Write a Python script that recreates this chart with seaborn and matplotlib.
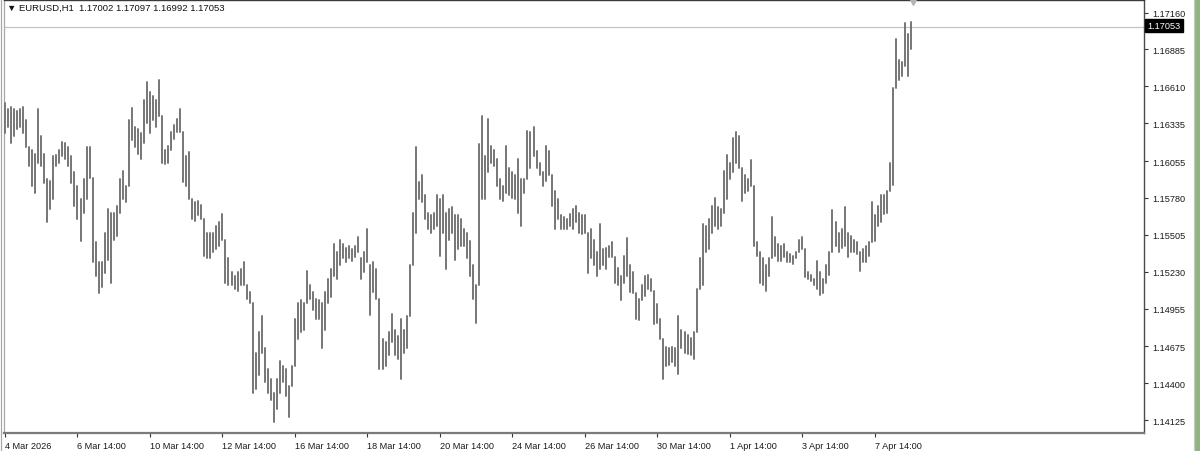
import numpy as np
import pandas as pd
import matplotlib
matplotlib.use("Agg")
import matplotlib.pyplot as plt
import seaborn as sns
from matplotlib.lines import Line2D
from matplotlib.patches import Rectangle

# ---------------- data ----------------
symbol_title = "EURUSD,H1"
last_ohlc = [1.17002, 1.17097, 1.16992, 1.17053]
last_price = 1.17053

bar_high = [
    1.1649, 1.1644, 1.1646, 1.1644, 1.1643, 1.1644, 1.1646, 1.1636, 1.1616, 1.1614,
    1.1611, 1.1644, 1.1624, 1.1611, 1.1592, 1.1591, 1.1609, 1.1610, 1.1614, 1.1620,
    1.1619, 1.1616, 1.1609, 1.1597, 1.1587, 1.1577, 1.1592, 1.1616, 1.1616, 1.1593,
    1.1545, 1.1530, 1.1530, 1.1552, 1.1570, 1.1567, 1.1567, 1.1572, 1.1592, 1.1598,
    1.1587, 1.1636, 1.1645, 1.1631, 1.1629, 1.1626, 1.1651, 1.1664, 1.1657, 1.1654,
    1.1651, 1.1666,
    1.1639, 1.1614, 1.1617, 1.1627, 1.1632, 1.1637, 1.1644, 1.1627, 1.1609, 1.1612,
    1.1577, 1.1575, 1.1576, 1.1573, 1.1562, 1.1552, 1.1552, 1.1552, 1.1557, 1.1560,
    1.1566, 1.1547, 1.1533, 1.1523, 1.1520, 1.1523, 1.1525, 1.1530, 1.1513, 1.1508,
    1.1500, 1.1463, 1.1478, 1.1490, 1.1466, 1.1451, 1.1443, 1.1433, 1.1443, 1.1457,
    1.1453, 1.1451, 1.1438, 1.1453, 1.1488, 1.1500, 1.1502, 1.1500, 1.1524, 1.1513,
    1.1508, 1.1503, 1.1502, 1.1500, 1.1508, 1.1518, 1.1525, 1.1544, 1.1538, 1.1547,
    1.1544, 1.1541, 1.1542, 1.1540, 1.1542, 1.1549, 1.1533, 1.1538, 1.1555, 1.1528,
    1.1530, 1.1525, 1.1503, 1.1473, 1.1471, 1.1478, 1.1492, 1.1480, 1.1475, 1.1488,
    1.1480, 1.1490, 1.1528, 1.1567, 1.1616, 1.1590, 1.1595, 1.1580, 1.1567, 1.1565,
    1.1567, 1.1580, 1.1577, 1.1580, 1.1567, 1.1570, 1.1571, 1.1565, 1.1565, 1.1562,
    1.1555, 1.1552, 1.1546, 1.1528, 1.1513, 1.1618, 1.1639, 1.1609, 1.1637, 1.1617,
    1.1614, 1.1607, 1.1592, 1.1587, 1.1617, 1.1600, 1.1597, 1.1595, 1.1607, 1.1592,
    1.1592, 1.1628, 1.1627, 1.1631, 1.1613, 1.1604, 1.1597, 1.1617, 1.1613, 1.1595,
    1.1583, 1.1577, 1.1565, 1.1564, 1.1562, 1.1566, 1.1570, 1.1572, 1.1567, 1.1565,
    1.1565, 1.1552, 1.1555, 1.1547, 1.1538, 1.1559, 1.1540, 1.1541, 1.1542,
    1.1545, 1.1534, 1.1526, 1.1520, 1.1535, 1.1548, 1.1528, 1.1523, 1.1507, 1.1503,
    1.1513, 1.1520, 1.1521, 1.1518, 1.1509, 1.1499, 1.1488, 1.1473, 1.1467, 1.1466,
    1.1467, 1.1466, 1.1490, 1.1480, 1.1478, 1.1476, 1.1474, 1.1478, 1.1510, 1.1533,
    1.1559, 1.1557, 1.1562, 1.1572, 1.1578, 1.1571, 1.1570, 1.1598, 1.1610, 1.1604,
    1.1623, 1.1627, 1.1624, 1.1600, 1.1595, 1.1592, 1.1606, 1.1587, 1.1545, 1.1538,
    1.1533, 1.1528, 1.1533, 1.1564, 1.1549, 1.1544, 1.1542, 1.1544, 1.1538, 1.1536,
    1.1535, 1.1538, 1.1547, 1.1549, 1.1540, 1.1523, 1.1521, 1.1518, 1.1531, 1.1523,
    1.1518, 1.1528, 1.1538, 1.1569, 1.1560, 1.1552, 1.1555, 1.1571, 1.1552, 1.1550,
    1.1547, 1.1545, 1.1538, 1.1540, 1.1542, 1.1545, 1.1575, 1.1565, 1.1572, 1.1580,
    1.1580, 1.1583, 1.1604, 1.1660, 1.1696, 1.1681, 1.1679, 1.1708, 1.1700, 1.1709,
]

bar_low = [
    1.1626, 1.1631, 1.1619, 1.1624, 1.1629, 1.1631, 1.1626, 1.1616, 1.1602, 1.1587,
    1.1582, 1.1604, 1.1602, 1.1589, 1.1560, 1.1570, 1.1577, 1.1602, 1.1604, 1.1609,
    1.1607, 1.1602, 1.1589, 1.1572, 1.1562, 1.1546, 1.1567, 1.1577, 1.1593, 1.1530,
    1.1520, 1.1507, 1.1512, 1.1522, 1.1532, 1.1515, 1.1547, 1.1550, 1.1567, 1.1577,
    1.1575, 1.1587, 1.1621, 1.1616, 1.1611, 1.1607, 1.1619, 1.1634, 1.1626, 1.1636,
    1.1631, 1.1639,
    1.1604, 1.1603, 1.1604, 1.1614, 1.1622, 1.1627, 1.1627, 1.1590, 1.1587, 1.1577,
    1.1562, 1.1561, 1.1565, 1.1562, 1.1535, 1.1533, 1.1533, 1.1538, 1.1540, 1.1542,
    1.1547, 1.1515, 1.1513, 1.1513, 1.1510, 1.1509, 1.1513, 1.1513, 1.1503, 1.1500,
    1.1433, 1.1436, 1.1446, 1.1463, 1.1441, 1.1433, 1.1428, 1.1411, 1.1421, 1.1433,
    1.1441, 1.1431, 1.1415, 1.1438, 1.1453, 1.1473, 1.1478, 1.1480, 1.1500, 1.1503,
    1.1495, 1.1488, 1.1488, 1.1466, 1.1480, 1.1500, 1.1504, 1.1520, 1.1518, 1.1528,
    1.1533, 1.1530, 1.1533, 1.1531, 1.1534, 1.1538, 1.1518, 1.1523, 1.1530, 1.1491,
    1.1508, 1.1503, 1.1451, 1.1451, 1.1453, 1.1461, 1.1471, 1.1461, 1.1458, 1.1443,
    1.1463, 1.1466, 1.1490, 1.1528, 1.1552, 1.1577, 1.1575, 1.1562, 1.1555, 1.1552,
    1.1555, 1.1557, 1.1535, 1.1552, 1.1525, 1.1547, 1.1552, 1.1532, 1.1540, 1.1542,
    1.1542, 1.1533, 1.1520, 1.1503, 1.1485, 1.1513, 1.1577, 1.1577, 1.1597, 1.1604,
    1.1602, 1.1587, 1.1577, 1.1576, 1.1582, 1.1580, 1.1578, 1.1577, 1.1567, 1.1557,
    1.1582, 1.1592, 1.1600, 1.1609, 1.1600, 1.1595, 1.1587, 1.1591, 1.1595, 1.1572,
    1.1555, 1.1562, 1.1555, 1.1555, 1.1555, 1.1557, 1.1555, 1.1560, 1.1552, 1.1551,
    1.1552, 1.1522, 1.1533, 1.1528, 1.1520, 1.1525, 1.1528, 1.1525, 1.1534,
    1.1534, 1.1515, 1.1513, 1.1502, 1.1515, 1.1520, 1.1508, 1.1507, 1.1488, 1.1487,
    1.1502, 1.1505, 1.1510, 1.1509, 1.1484, 1.1485, 1.1473, 1.1443, 1.1453, 1.1454,
    1.1456, 1.1453, 1.1447, 1.1466, 1.1463, 1.1462, 1.1461, 1.1458, 1.1478, 1.1510,
    1.1513, 1.1538, 1.1540, 1.1552, 1.1557, 1.1555, 1.1557, 1.1567, 1.1577, 1.1592,
    1.1597, 1.1604, 1.1600, 1.1576, 1.1582, 1.1583, 1.1587, 1.1542, 1.1535, 1.1515,
    1.1513, 1.1509, 1.1520, 1.1533, 1.1535, 1.1531, 1.1531, 1.1534, 1.1530, 1.1530,
    1.1529, 1.1533, 1.1538, 1.1540, 1.1519, 1.1518, 1.1516, 1.1513, 1.1510, 1.1506,
    1.1507, 1.1515, 1.1521, 1.1538, 1.1542, 1.1538, 1.1541, 1.1542, 1.1534, 1.1538,
    1.1538, 1.1536, 1.1524, 1.1530, 1.1530, 1.1535, 1.1545, 1.1546, 1.1557, 1.1560,
    1.1566, 1.1567, 1.1583, 1.1588, 1.1660, 1.1666, 1.1669, 1.1676, 1.1669, 1.1689,
]

x_label_bars = [0, 24, 48, 72, 96, 120, 144, 168, 192, 216, 240, 264, 288]
x_labels = ["4 Mar 2026", "6 Mar 14:00", "10 Mar 14:00", "12 Mar 14:00",
            "16 Mar 14:00", "18 Mar 14:00", "20 Mar 14:00", "24 Mar 14:00",
            "26 Mar 14:00", "30 Mar 14:00", "1 Apr 14:00", "3 Apr 14:00",
            "7 Apr 14:00"]

price_ticks = [1.17160, 1.16885, 1.16610, 1.16335, 1.16055, 1.15780,
               1.15505, 1.15230, 1.14955, 1.14675, 1.14400, 1.14125]
price_tick_labels = ["1.17160", "1.16885", "1.16610", "1.16335", "1.16055",
                     "1.15780", "1.15505", "1.15230", "1.14955", "1.14675",
                     "1.14400", "1.14125"]

# ---------------- styling ----------------
sns.set_style("white")
plt.rcParams["font.family"] = ["Liberation Sans", "DejaVu Sans"]

W, H = 1200, 452
fig = plt.figure(figsize=(W / 100, H / 100), dpi=100)
fig.patch.set_facecolor("white")

ax_left, ax_right, ax_top, ax_bottom = 4, 1144, 0.5, 434
ax = fig.add_axes([ax_left / W, (H - ax_bottom) / H,
                   (ax_right - ax_left) / W, (ax_bottom - ax_top) / H])

n = len(bar_high)
bars = np.arange(n)
df = pd.DataFrame({
    "bar": np.repeat(bars, 2),
    "price": np.column_stack([bar_low, bar_high]).ravel(),
})
df["x"] = df["bar"]

# current price line (behind the bars)
ax.axhline(last_price, color="#c4c4c4", lw=0.9, zorder=1)

sns.lineplot(data=df, x="x", y="price", units="bar", estimator=None,
             sort=False, color="#767676", lw=1.4, ax=ax, legend=False,
             zorder=3)

px_per_bar = 3.02
first_bar_px = 5
ax.set_xlim((ax_left - first_bar_px) / px_per_bar,
            (ax_right - first_bar_px) / px_per_bar)
ax.set_ylim(1.14031, 1.17257)

ax.set_xlabel("")
ax.set_ylabel("")

ax.yaxis.tick_right()
ax.set_yticks(price_ticks)
ax.set_yticklabels(price_tick_labels)
ax.tick_params(axis="y", which="both", right=True, left=False, length=3,
               width=0.8, color="#333333", pad=3, labelsize=6.6,
               labelcolor="#1a1a1a", direction="out")

ax.set_xticks(x_label_bars)
ax.set_xticklabels(x_labels)
ax.tick_params(axis="x", which="both", bottom=True, length=3, width=0.8,
               color="#333333", pad=2.5, labelsize=6.6, labelcolor="#1a1a1a",
               direction="out")
for lab in ax.get_xticklabels():
    lab.set_horizontalalignment("left")

for side, col, lw in [("top", "#3a3a3a", 1.0), ("right", "#4a4a4a", 1.0),
                      ("bottom", "#7a7a7a", 1.6), ("left", "#a8a8a8", 0.9)]:
    ax.spines[side].set_visible(True)
    ax.spines[side].set_color(col)
    ax.spines[side].set_linewidth(lw)

# chart-shift marker at the top
ax.plot([(913 - first_bar_px) / px_per_bar], [1.17236], marker="v", ms=4.5,
        color="#b4b4b4", clip_on=False, zorder=5)

# header text
header = "\u25BC " + symbol_title + "  " + " ".join(f"{v:.5f}" for v in last_ohlc)
fig.text(7 / W, 1 - 8.5 / H, header, fontsize=6.8, color="#111111",
         va="center", ha="left", family=["Liberation Sans", "DejaVu Sans"])

# current price box on the axis
fig.text(1147.5 / W, 1 - 26.3 / H, f"{last_price:.5f}", fontsize=6.6,
         color="white", va="center", ha="left",
         bbox=dict(boxstyle="square,pad=0.22", fc="black", ec="black"))

# window frame elements
fig.add_artist(Line2D([0.5 / W, 0.5 / W], [0, 1], transform=fig.transFigure,
                      color="#a8a8a8", lw=0.9))
fig.add_artist(Line2D([1193.5 / W, 1193.5 / W], [0, 1], transform=fig.transFigure,
                      color="#c8c8c8", lw=0.9))
fig.add_artist(Rectangle((1194.5 / W, 0), 5.5 / W, 1, transform=fig.transFigure,
                         facecolor="#93b482", edgecolor="none"))

fig.savefig("out.png", dpi=100, facecolor="white")
